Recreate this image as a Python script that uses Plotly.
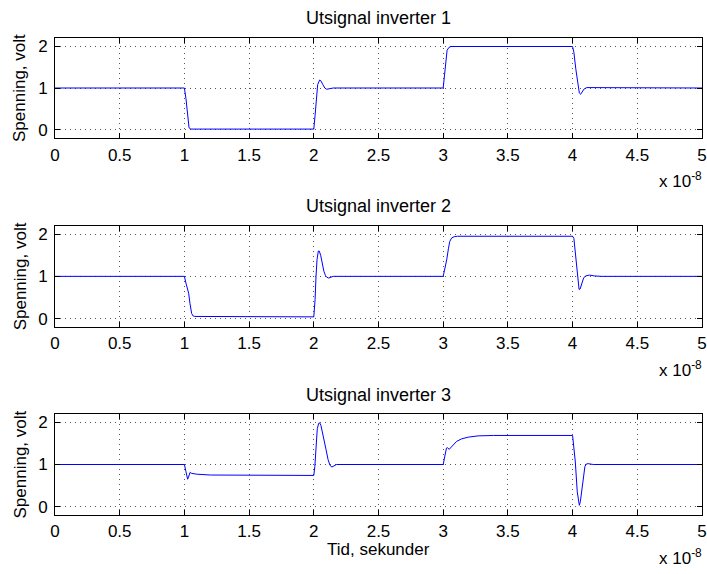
import plotly.graph_objects as go

# time axis values in units of 1e-8 s
time1 = [0, 1.0, 1.012, 1.025, 1.036, 1.05, 2.0, 2.01, 2.02, 2.03, 2.045, 2.055, 2.07, 2.085, 2.1, 2.125, 2.15,
         3.0, 3.01, 3.02, 3.03, 3.045, 3.06, 4.0, 4.01, 4.025, 4.04, 4.052, 4.062, 4.075, 4.09, 4.11, 4.14, 4.2, 5.0]
volt1 = [1.0, 1.0, 0.75, 0.3, 0.05, 0.02, 0.02, 0.35, 0.85, 1.08, 1.19, 1.17, 1.08, 1.0, 0.97, 0.98, 1.0,
         1.0, 1.3, 1.7, 1.9, 1.97, 1.99, 1.99, 1.85, 1.45, 1.05, 0.88, 0.85, 0.9, 0.98, 1.01, 1.01, 1.0, 1.0]

time2 = [0, 1.0, 1.012, 1.02, 1.027, 1.033, 1.043, 1.056, 1.068, 1.08, 2.0, 2.01, 2.017, 2.025, 2.035, 2.042,
         2.053, 2.065, 2.078, 2.09, 2.1, 2.115, 2.13, 2.15, 3.0, 3.012, 3.027, 3.04, 3.05, 3.065, 3.085, 3.11,
         4.0, 4.01, 4.02, 4.03, 4.04, 4.05, 4.058, 4.07, 4.085, 4.1, 4.13, 4.17, 4.22, 5.0]
volt2 = [1.0, 1.0, 0.84, 0.72, 0.68, 0.6, 0.36, 0.12, 0.06, 0.05, 0.04, 0.45, 1.0, 1.4, 1.6, 1.6,
         1.5, 1.3, 1.12, 1.02, 0.98, 0.96, 0.98, 1.0, 1.0, 1.15, 1.39, 1.65, 1.82, 1.91, 1.94, 1.95,
         1.95, 1.9, 1.6, 1.2, 0.85, 0.69, 0.7, 0.84, 0.96, 1.01, 1.03, 1.01, 1.0, 1.0]

time3 = [0, 1.0, 1.012, 1.02, 1.025, 1.032, 1.043, 1.056, 1.095, 1.2, 1.4, 2.0, 2.008, 2.015, 2.027, 2.038,
         2.045, 2.055, 2.065, 2.08, 2.095, 2.11, 2.125, 2.14, 2.155, 2.175, 3.0, 3.008, 3.016, 3.025, 3.032,
         3.04, 3.047, 3.055, 3.065, 3.085, 3.104, 3.143, 3.194, 3.27, 3.39, 4.0, 4.008, 4.021, 4.036, 4.046,
         4.052, 4.06, 4.067, 4.083, 4.095, 4.105, 4.12, 4.16, 5.0]
volt3 = [1.0, 1.0, 0.83, 0.7, 0.65, 0.7, 0.81, 0.79, 0.77, 0.75, 0.745, 0.74, 0.95, 1.3, 1.85, 1.98,
         1.99, 1.93, 1.8, 1.6, 1.35, 1.12, 0.98, 0.94, 0.96, 1.0, 1.0, 1.12, 1.3, 1.39, 1.4,
         1.37, 1.36, 1.39, 1.42, 1.5, 1.55, 1.61, 1.65, 1.68, 1.69, 1.69, 1.5, 1.06, 0.35, 0.08,
         0.03, 0.12, 0.28, 0.75, 0.95, 1.01, 1.02, 1.0, 1.0]

x_tick_vals = [0, 0.5, 1, 1.5, 2, 2.5, 3, 3.5, 4, 4.5, 5]
x_tick_text = ["0", "0.5", "1", "1.5", "2", "2.5", "3", "3.5", "4", "4.5", "5"]
y_tick_vals = [0, 1, 2]
y_tick_text = ["0", "1", "2"]
titles = ["Utsignal inverter 1", "Utsignal inverter 2", "Utsignal inverter 3"]
y_label = "Spenning, volt"
x_label = "Tid, sekunder"
exponent_text = "x 10<sup>-8</sup>"

W, H = 707, 574
FONT = "Liberation Sans, Arial, Helvetica, sans-serif"
FS = 17
FS_TITLE = 18
left_px, right_px = 55, 702
tops = [37.7, 225.7, 414.0]
bottoms = [138.3, 327.0, 515.0]

series = [(time1, volt1), (time2, volt2), (time3, volt3)]

fig = go.Figure()
annotations = []
for i, (tt, vv) in enumerate(series):
    n = "" if i == 0 else str(i + 1)
    fig.add_trace(go.Scatter(x=tt, y=vv, mode="lines", xaxis="x" + n, yaxis="y" + n,
                             line=dict(color="#0000ff", width=1), showlegend=False,
                             hoverinfo="skip", cliponaxis=False))
    dom_y = [1 - bottoms[i] / H, 1 - tops[i] / H]
    common = dict(showline=True, linecolor="black", linewidth=1, mirror="ticks",
                  ticks="inside", ticklen=5, tickcolor="black", tickwidth=1,
                  showgrid=True, gridcolor="#555555", gridwidth=1, griddash="1px,4px",
                  zeroline=False, tickfont=dict(family=FONT, size=FS, color="black"),
                  fixedrange=True, automargin=False)
    fig.update_layout(**{
        "xaxis" + n: dict(domain=[left_px / W, right_px / W], anchor="y" + n, range=[0, 5],
                          tickmode="array", tickvals=x_tick_vals, ticktext=x_tick_text,
                          ticklabelstandoff=1, **common),
        "yaxis" + n: dict(domain=dom_y, anchor="x" + n, range=[-0.2, 2.2],
                          tickmode="array", tickvals=y_tick_vals, ticktext=y_tick_text,
                          ticklabelstandoff=3, **common),
    })
    annotations.append(dict(text=titles[i], x=(left_px + right_px) / 2 / W, y=1 - (tops[i] - 19.5) / H,
                            xref="paper", yref="paper", xanchor="center", yanchor="middle",
                            showarrow=False, font=dict(family=FONT, size=FS_TITLE, color="black")))
    annotations.append(dict(text=y_label, x=20 / W, y=1 - (tops[i] + bottoms[i]) / 2 / H,
                            xref="paper", yref="paper", xanchor="center", yanchor="middle",
                            textangle=-90, showarrow=False,
                            font=dict(family=FONT, size=FS, color="black")))
    annotations.append(dict(text=exponent_text, x=704 / W, y=1 - (bottoms[i] + 42) / H,
                            xref="paper", yref="paper", xanchor="right", yanchor="middle",
                            showarrow=False, font=dict(family=FONT, size=FS, color="black")))

annotations.append(dict(text=x_label, x=(left_px + right_px) / 2 / W, y=1 - (bottoms[2] + 34) / H,
                        xref="paper", yref="paper", xanchor="center", yanchor="middle",
                        showarrow=False, font=dict(family=FONT, size=FS, color="black")))

fig.update_layout(width=W, height=H, margin=dict(l=0, r=0, t=0, b=0, autoexpand=False),
                  template="none",
                  paper_bgcolor="white", plot_bgcolor="white", annotations=annotations,
                  showlegend=False)

fig.write_html("out.html", config={"displayModeBar": False, "staticPlot": True},
               post_script="document.body.style.margin='0';document.body.style.padding='0';"
                           "document.body.style.overflow='hidden';")
